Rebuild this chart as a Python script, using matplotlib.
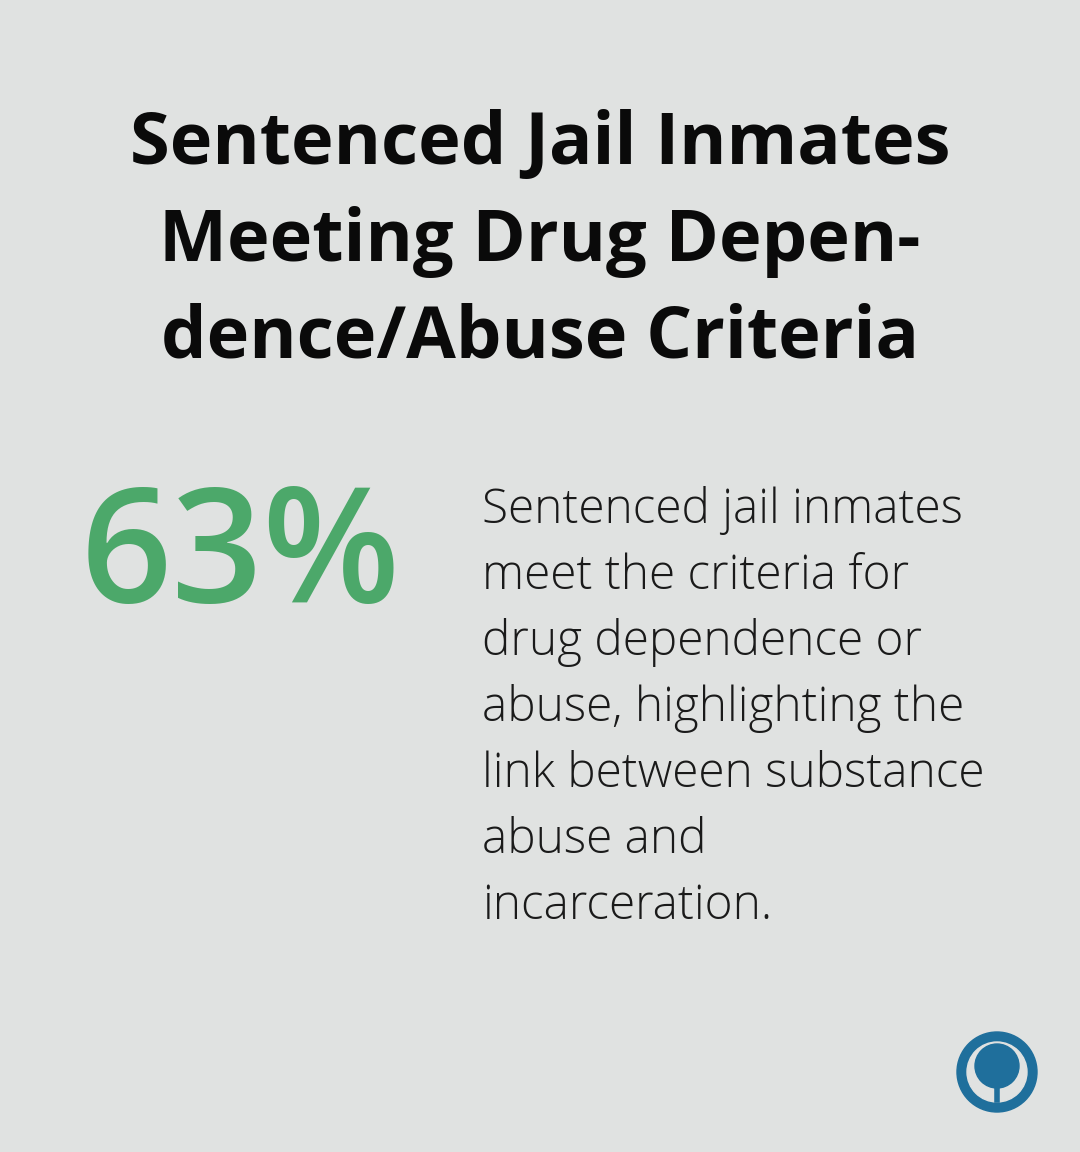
import matplotlib
matplotlib.use("Agg")
import matplotlib.pyplot as plt
from matplotlib.patches import Circle

title_lines = ["Sentenced Jail Inmates", "Meeting Drug Depen-", "dence/Abuse Criteria"]
stat_value = 63
body_lines = ["Sentenced jail inmates", "meet the criteria for", "drug dependence or",
              "abuse, highlighting the", "link between substance", "abuse and", "incarceration."]

W, H = 1080, 1152
fig = plt.figure(figsize=(W/100, H/100), dpi=100)
fig.patch.set_facecolor("#e0e2e1")
ax = fig.add_axes([0, 0, 1, 1])
ax.set_xlim(0, W); ax.set_ylim(H, 0); ax.axis("off")

for i, t in enumerate(title_lines):
    ax.text(540, 164 + i*97, t, ha="center", va="baseline", fontsize=51.9,
            fontfamily="Open Sans", fontweight="bold", color="#0a0a0a")

ax.text(81, 602, f"{stat_value}%", ha="left", va="baseline", fontsize=115,
        fontfamily="Open Sans", fontweight="medium", color="#4ca86a")

for i, t in enumerate(body_lines):
    ax.text(482, 523 + i*66, t, ha="left", va="baseline", fontsize=34.4,
            fontfamily="Open Sans", fontweight="light", color="#1a1a1a")

ax.add_patch(Circle((997, 1072), 40, color="#1f6f9c"))
ax.add_patch(Circle((997, 1072), 30, color="#e0e2e1"))
ax.add_patch(Circle((997, 1066), 22, color="#1f6f9c"))
ax.plot([997, 997], [1070, 1100], color="#1f6f9c", lw=4)

fig.savefig("out.png", dpi=100, facecolor=fig.get_facecolor())
